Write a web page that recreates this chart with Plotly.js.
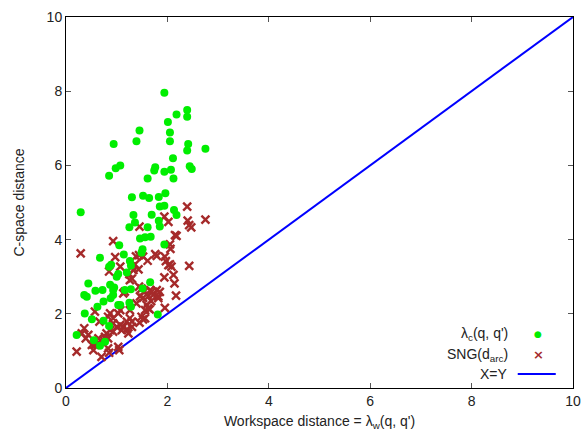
<!DOCTYPE html>
<html>
<head>
<meta charset="utf-8">
<script src="https://cdn.plot.ly/plotly-3.0.1.min.js"></script>
<style>html,body{margin:0;padding:0;background:#fff;}#chart{width:582px;height:432px;}</style>
</head>
<body>
<div id="chart"></div>
<script>
// lambda_c(q, q') points: [workspace distance, c-space distance]
const lambdaC = [
[1.94,7.96],[2.39,7.49],[2.39,7.31],[2.18,7.37],[2.01,7.17],[1.45,6.94],[2.05,6.89],[0.94,6.58],[1.39,6.65],[2.05,6.65],
[2.41,6.58],[2.39,6.40],[2.75,6.45],[2.11,6.19],[1.07,6.00],[0.98,5.92],[0.85,5.72],[1.76,5.95],[1.74,5.86],[1.61,5.65],
[1.94,5.83],[2.07,5.88],[2.12,5.65],[2.44,5.98],[2.48,5.90],[1.30,5.14],[1.52,5.18],[1.64,5.12],[1.83,5.15],[1.96,5.25],
[0.29,4.74],[1.85,4.89],[1.94,4.91],[2.13,4.80],[2.18,4.66],[1.33,4.66],[1.69,4.67],[1.83,4.51],[1.85,4.35],[1.36,4.46],
[1.25,4.33],[1.61,4.33],[1.46,4.03],[1.56,4.06],[1.67,4.08],[1.05,3.85],[1.94,3.87],[1.51,3.74],[1.49,3.65],[1.14,3.60],
[0.67,3.51],[0.89,3.32],[0.85,3.27],[1.26,3.42],[1.28,3.30],[1.03,3.07],[1.00,3.00],[1.20,3.11],[0.44,2.82],[0.87,2.78],
[0.95,2.71],[0.93,2.64],[1.16,2.64],[1.66,2.85],[0.58,2.62],[0.72,2.64],[0.36,2.51],[0.41,2.46],[0.93,2.51],[1.28,2.66],
[1.51,2.68],[0.74,2.33],[0.62,2.19],[0.88,2.42],[1.03,2.24],[1.07,2.24],[1.25,2.30],[1.28,2.19],[0.37,2.01],[0.51,1.85],
[0.74,1.81],[1.81,1.98],[0.21,1.43],[0.85,1.67],[0.55,1.29],[0.67,1.14],[0.77,1.25]
];
// SNG(d_arc) points
const sngArc = [
[2.39,4.89],[2.75,4.54],[2.40,4.51],[2.43,4.39],[2.47,4.33],[1.94,4.62],[2.02,4.48],[1.45,4.35],[2.15,4.12],[2.18,4.10],
[0.93,3.96],[0.29,3.63],[2.05,3.87],[2.06,3.75],[1.44,3.58],[1.52,3.54],[1.76,3.61],[1.79,3.56],[1.95,3.54],[1.97,3.42],
[2.02,3.31],[1.61,3.43],[1.36,3.33],[1.30,3.27],[1.33,3.18],[1.43,3.20],[1.07,3.27],[2.05,3.33],[2.08,3.27],[2.43,3.29],
[0.85,3.14],[1.94,2.98],[2.12,3.05],[2.14,2.82],[1.26,2.91],[1.30,2.95],[1.44,2.73],[1.49,2.68],[1.66,2.64],[1.79,2.64],
[1.85,2.59],[1.82,2.47],[1.72,2.51],[1.62,2.47],[2.17,2.49],[1.13,2.55],[1.16,2.60],[1.82,2.42],[1.69,2.60],[1.46,2.47],
[1.55,2.61],[1.52,2.43],[1.68,2.34],[1.59,2.24],[1.62,2.15],[1.56,2.10],[1.65,2.12],[1.95,2.16],[1.39,2.28],[1.26,2.10],
[1.03,2.01],[1.07,2.10],[0.87,2.01],[0.83,1.92],[0.93,1.88],[0.57,2.06],[0.66,1.79],[1.56,1.88],[1.49,1.92],[1.52,1.85],
[1.45,1.76],[1.26,1.88],[1.30,1.79],[1.20,1.79],[1.07,1.70],[1.00,1.65],[0.93,1.74],[1.13,1.65],[1.20,1.58],[1.10,1.56],
[0.87,1.56],[0.93,1.52],[0.80,1.47],[1.30,1.65],[1.23,1.47],[0.77,1.38],[0.74,1.29],[0.83,1.34],[0.36,1.61],[0.31,1.47],
[0.39,1.34],[0.44,1.43],[0.64,1.34],[0.64,1.20],[0.57,1.16],[0.51,1.16],[0.21,0.98],[0.70,0.84],[0.85,0.95],[0.83,1.07],
[1.03,1.11],[1.05,1.02],[0.54,1.02],[0.97,3.53],[1.25,3.07],[1.38,3.55]
];
// X=Y reference line
const lineX = [0, 10];
const lineY = [0, 10];
const tickVals = [0, 2, 4, 6, 8, 10];
const tickText = ['0', '2', '4', '6', '8', '10'];

const FONT = 'Liberation Sans, Arial, sans-serif';
const TXT = '#222';

const traces = [
  {x: lineX, y: lineY, mode: 'lines', type: 'scatter', line: {color: '#0000ff', width: 2}, hoverinfo: 'skip'},
  {x: sngArc.map(p => p[0]), y: sngArc.map(p => p[1]), mode: 'markers', type: 'scatter',
   marker: {symbol: 'x-thin-open', size: 8, line: {color: '#a52a2a', width: 2.4}, color: '#a52a2a'}},
  {x: lambdaC.map(p => p[0]), y: lambdaC.map(p => p[1]), mode: 'markers', type: 'scatter',
   marker: {symbol: 'circle', size: 8, color: '#00ee00', line: {width: 0}}}
];

const axisCommon = {
  range: [0, 10], tickvals: tickVals, ticktext: tickText, showgrid: false, zeroline: false,
  showline: true, linecolor: '#000', linewidth: 1, mirror: 'ticks', ticks: 'inside', ticklen: 5,
  tickcolor: '#555', tickwidth: 1, tickfont: {family: FONT, size: 14, color: TXT}
};

const layout = {
  width: 582, height: 432,
  margin: {l: 66, r: 9, t: 17, b: 44},
  paper_bgcolor: '#fff', plot_bgcolor: '#fff',
  showlegend: false,
  font: {family: FONT, size: 14, color: TXT},
  xaxis: Object.assign({}, axisCommon, {title: {text: "Workspace distance = λ<sub>w</sub>(q, q')", font: {family: FONT, size: 14, color: TXT}, standoff: 8}}),
  yaxis: Object.assign({}, axisCommon, {title: {text: 'C-space distance', font: {family: FONT, size: 14, color: TXT}, standoff: 18}}),
  annotations: [
    {xref: 'paper', yref: 'paper', x: 0.876, y: 0.1456, xanchor: 'right', yanchor: 'middle', showarrow: false,
     text: "λ<sub>c</sub>(q, q')", font: {family: FONT, size: 14, color: TXT}},
    {xref: 'paper', yref: 'paper', x: 0.876, y: 0.089, xanchor: 'right', yanchor: 'middle', showarrow: false,
     text: "SNG(d<sub>arc</sub>)", font: {family: FONT, size: 14, color: TXT}},
    {xref: 'paper', yref: 'paper', x: 0.876, y: 0.0377, xanchor: 'right', yanchor: 'middle', showarrow: false,
     text: "X=Y", font: {family: FONT, size: 14, color: TXT}},
    {xref: 'paper', yref: 'paper', x: 0.931, y: 0.1456, xanchor: 'center', yanchor: 'middle', showarrow: false,
     text: "●", font: {family: 'DejaVu Sans', size: 9, color: '#00ee00'}},
    {xref: 'paper', yref: 'paper', x: 0.931, y: 0.089, xanchor: 'center', yanchor: 'middle', showarrow: false,
     text: "<b>×</b>", font: {family: 'DejaVu Sans', size: 13, color: '#a52a2a'}}
  ],
  shapes: [
    {type: 'line', xref: 'paper', yref: 'paper', x0: 0.891, x1: 0.966, y0: 0.0377, y1: 0.0377,
     line: {color: '#0000ff', width: 2}}
  ]
};

Plotly.newPlot('chart', traces, layout, {staticPlot: true, displayModeBar: false});
</script>
</body>
</html>
